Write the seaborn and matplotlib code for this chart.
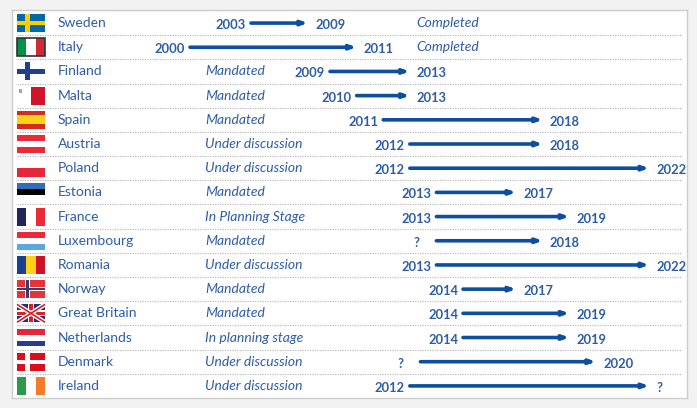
import numpy as np
import matplotlib
matplotlib.use("Agg")
import matplotlib.pyplot as plt
from matplotlib.patches import Rectangle
import seaborn as sns

# rows, top to bottom
countries = ["Sweden", "Italy", "Finland", "Malta", "Spain", "Austria", "Poland",
             "Estonia", "France", "Luxembourg", "Romania", "Norway",
             "Great Britain", "Netherlands", "Denmark", "Ireland"]
status = ["Completed", "Completed", "Mandated", "Mandated", "Mandated",
          "Under discussion", "Under discussion", "Mandated", "In Planning Stage",
          "Mandated", "Under discussion", "Mandated", "Mandated",
          "In planning stage", "Under discussion", "Under discussion"]
# "?" starts/ends are drawn at an estimated year
start_year = [2003, 2000, 2009, 2010, 2011, 2012, 2012, 2013, 2013, 2013, 2013,
              2014, 2014, 2014, 2012.4, 2012]
start_label = ["2003", "2000", "2009", "2010", "2011", "2012", "2012", "2013", "2013",
               "?", "2013", "2014", "2014", "2014", "?", "2012"]
end_year = [2009, 2011, 2013, 2013, 2018, 2018, 2022, 2017, 2019, 2018, 2022,
            2017, 2019, 2019, 2020, 2022]
end_label = ["2009", "2011", "2013", "2013", "2018", "2018", "2022", "2017", "2019",
             "2018", "2022", "2017", "2019", "2019", "2020", "?"]

flags = {
    "Sweden": ("cross", "#006aa7", "#fecc00", None),
    "Italy": ("v", ["#009246", "#ffffff", "#ce2b37"]),
    "Finland": ("cross", "#ffffff", "#1f3f8f", None),
    "Malta": ("malta", ["#ffffff", "#cf142b"]),
    "Spain": ("h", ["#d52b1e", "#f7d417", "#d52b1e"], [1, 2, 1]),
    "Austria": ("h", ["#ed2939", "#ffffff", "#ed2939"]),
    "Poland": ("h", ["#ffffff", "#e8263a"]),
    "Estonia": ("h", ["#2f6fb8", "#000000", "#ffffff"]),
    "France": ("v", ["#232360", "#ffffff", "#ed2939"]),
    "Luxembourg": ("h", ["#ed2939", "#ffffff", "#5aa6de"]),
    "Romania": ("v", ["#1d3f91", "#fcd116", "#ce1126"]),
    "Norway": ("cross", "#e8323a", "#ffffff", "#33406f"),
    "Great Britain": ("uk",),
    "Netherlands": ("h", ["#e8263a", "#ffffff", "#22408f"]),
    "Denmark": ("cross", "#d8101e", "#ffffff", None),
    "Ireland": ("v", ["#2a9a4a", "#ffffff", "#f47b2a"]),
}

TEXT = "#2d5ca8"
ARROW = "#0c4fa0"

sns.set_theme(style="white")
plt.rcParams["font.family"] = ["Lato", "DejaVu Sans"]

# panel sits from x=12 to x=687 px; x axis in years, early years squeezed
PX0, PX1 = 12, 687
knot_year = np.array([1980, 2001, 2004, 2009, 2010, 2040])
knot_px = np.array([-236.3, 190, 251, 308.0, 330.0, 1128.0])


def fwd(x):
    return np.interp(x, knot_year, knot_px)


def inv(p):
    return np.interp(p, knot_px, knot_year)


def colx(p):
    return (p - PX0) / (PX1 - PX0)


def draw_flag(ax, row, spec):
    tr = ax.get_yaxis_transform()
    x0, w = colx(17), 28 / (PX1 - PX0)
    h = 0.74
    y0 = row - h / 2
    kind = spec[0]
    if kind in ("h", "v"):
        cols = spec[1]
        wts = np.array(spec[2] if len(spec) > 2 else [1] * len(cols), float)
        wts = wts / wts.sum()
        off = 0
        for c, f in zip(cols, wts):
            if kind == "h":
                r = Rectangle((x0, y0 + off * h), w, f * h, color=c, transform=tr, lw=0)
            else:
                r = Rectangle((x0 + off * w, y0), f * w, h, color=c, transform=tr, lw=0)
            ax.add_patch(r)
            off += f
        if countries[row] == "Italy":
            ax.add_patch(Rectangle((x0, y0), w, h, fill=False, ec="#333333",
                                   lw=1.2, transform=tr))
    elif kind == "cross":
        bg, fg, inner = spec[1], spec[2], spec[3]
        ax.add_patch(Rectangle((x0, y0), w, h, color=bg, transform=tr, lw=0))
        ax.add_patch(Rectangle((x0 + 0.29 * w, y0), 0.17 * w, h, color=fg, transform=tr, lw=0))
        ax.add_patch(Rectangle((x0, y0 + 0.38 * h), w, 0.24 * h, color=fg, transform=tr, lw=0))
        if inner:
            ax.add_patch(Rectangle((x0 + 0.33 * w, y0), 0.09 * w, h, color=inner, transform=tr, lw=0))
            ax.add_patch(Rectangle((x0, y0 + 0.44 * h), w, 0.12 * h, color=inner, transform=tr, lw=0))
    elif kind == "uk":
        ax.add_patch(Rectangle((x0, y0), w, h, color="#2b2f6e", transform=tr, lw=0))
        for lw, c in ((3.2, "#ffffff"), (1.2, "#d8202c")):
            ax.plot([x0, x0 + w], [y0, y0 + h], color=c, lw=lw, transform=tr,
                    solid_capstyle="butt")
            ax.plot([x0, x0 + w], [y0 + h, y0], color=c, lw=lw, transform=tr,
                    solid_capstyle="butt")
        ax.add_patch(Rectangle((x0 + 0.40 * w, y0), 0.20 * w, h, color="#ffffff", transform=tr, lw=0))
        ax.add_patch(Rectangle((x0, y0 + 0.33 * h), w, 0.34 * h, color="#ffffff", transform=tr, lw=0))
        ax.add_patch(Rectangle((x0 + 0.44 * w, y0), 0.12 * w, h, color="#d8202c", transform=tr, lw=0))
        ax.add_patch(Rectangle((x0, y0 + 0.40 * h), w, 0.20 * h, color="#d8202c", transform=tr, lw=0))
    elif kind == "malta":
        cols = spec[1]
        ax.add_patch(Rectangle((x0, y0), w / 2, h, color=cols[0], transform=tr, lw=0))
        ax.add_patch(Rectangle((x0 + w / 2, y0), w / 2, h, color=cols[1], transform=tr, lw=0))
        ax.add_patch(Rectangle((x0 + 0.08 * w, y0 + 0.12 * h), 0.1 * w, 0.22 * h,
                               color="#b0a0a0", transform=tr, lw=0))


fig = plt.figure(figsize=(6.97, 4.08), dpi=100, facecolor="#f2f2f2")
ax = fig.add_axes([PX0 / 697, 10 / 408, (PX1 - PX0) / 697, 388 / 408])
ax.set_facecolor("white")
ax.set_xscale("function", functions=(fwd, inv))
ax.set_xlim(inv(PX0), inv(PX1))
n = len(countries)
ax.set_ylim(n - 0.5, -0.54)
ax.set_xticks([])
ax.set_yticks([])
ax.minorticks_off()
for s in ax.spines.values():
    s.set_color("#cdcdcd")
    s.set_linewidth(1.0)

for i in range(n - 1):
    ax.axhline(i + 0.5, xmin=colx(17), xmax=colx(682), color="#b8b8b8", lw=0.9,
               ls=(0, (1, 1)))

for i, name in enumerate(countries):
    draw_flag(ax, i, flags[name])
    ax.text(colx(58), i, name, transform=ax.get_yaxis_transform(), color=TEXT,
            fontsize=10, va="center", ha="left")
    sx = colx(416) if status[i] == "Completed" else colx(205)
    ax.text(sx, i, status[i], transform=ax.get_yaxis_transform(), color=TEXT,
            fontsize=10, style="italic", va="center", ha="left")

    # arrow runs from the end of the start year to the start of the end year
    x_tail = start_year[i] + 1
    ax.annotate("", xy=(end_year[i], i), xytext=(x_tail, i),
                arrowprops=dict(arrowstyle="-|>,head_length=0.28,head_width=0.1",
                                color=ARROW, lw=2.6, shrinkA=0, shrinkB=0))
    ax.annotate(start_label[i], xy=(x_tail, i), xytext=(-20, -2),
                textcoords="offset pixels", ha="center", va="center",
                color=TEXT, fontsize=9.3, fontweight="bold")
    ax.annotate(end_label[i], xy=(end_year[i], i), xytext=(7, -2),
                textcoords="offset pixels", ha="left", va="center",
                color=TEXT, fontsize=9.3, fontweight="bold")

fig.savefig("out.png", dpi=100, facecolor=fig.get_facecolor())
